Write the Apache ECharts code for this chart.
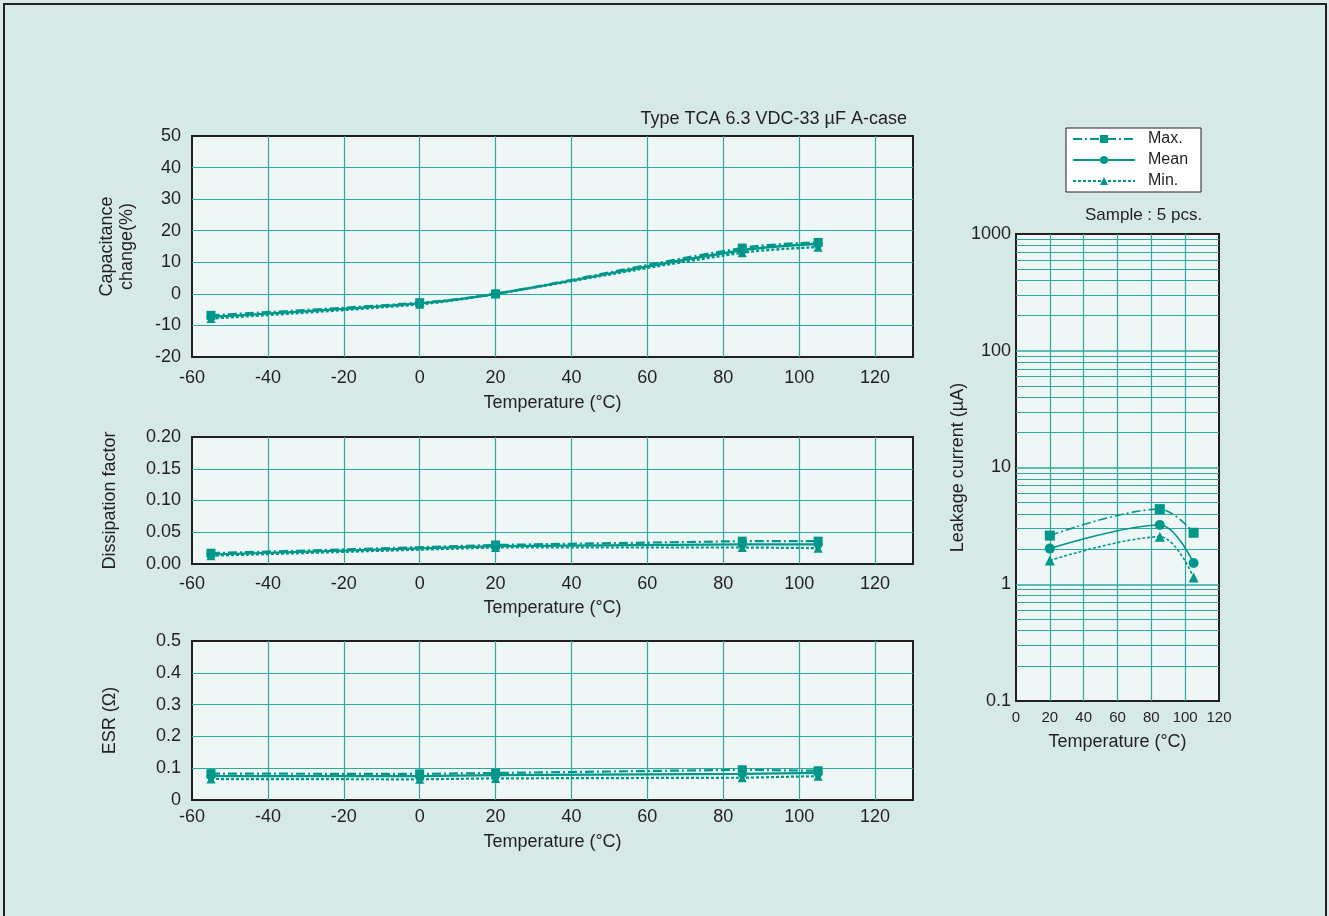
<!DOCTYPE html>
<html>
<head>
<meta charset="utf-8">
<script src="https://cdn.jsdelivr.net/npm/echarts@6/dist/echarts.min.js"></script>
<style>
html,body{margin:0;padding:0;background:#d5e9e6;}
#c{width:1329px;height:916px;}
</style>
</head>
<body>
<div id="c"></div>
<script>
// ---- data ----
const tempCap = [-55, 0, 20, 85, 105];
const capMax = [-6.8, -2.8, 0, 14.5, 16.3];
const capMean = [-7.3, -3.0, 0, 13.8, 15.8];
const capMin = [-7.8, -3.3, 0, 13.0, 14.8];

const tempDf = [-55, 20, 85, 105];
const dfMax = [0.017, 0.030, 0.036, 0.036];
const dfMean = [0.015, 0.028, 0.031, 0.031];
const dfMin = [0.013, 0.026, 0.026, 0.025];

const tempEsr = [-55, 0, 20, 85, 105];
const esrMax = [0.083, 0.082, 0.085, 0.095, 0.092];
const esrMean = [0.075, 0.075, 0.078, 0.082, 0.085];
const esrMin = [0.066, 0.065, 0.068, 0.070, 0.075];

const tempLeak = [20, 85, 105];
const leakMax = [2.61, 4.40, 2.76];
const leakMean = [2.02, 3.22, 1.52];
const leakMin = [1.60, 2.55, 1.14];

const leakMinorTicks = [0.2,0.3,0.4,0.5,0.6,0.7,0.8,0.9,2,3,4,5,6,7,8,9,20,30,40,50,60,70,80,90,200,300,400,500,600,700,800,900];

const seriesNames = ['Max.', 'Mean', 'Min.'];
const titleText = 'Type TCA 6.3 VDC-33 \u00b5F A-case';
const sampleText = 'Sample : 5 pcs.';

// ---- styles ----
const TEAL = '#00978b';
const GRIDC = '#2fa89e';
const TXT = '#231f20';
const FONT = '"Liberation Sans", Arial, Helvetica, sans-serif';
const FS = 18;
const styles = [
  {symbol: 'rect', type: [9, 3, 2, 3]},
  {symbol: 'circle', type: 'solid'},
  {symbol: 'triangle', type: [3, 2]}
];

function pairs(xs, ys) { return xs.map((x, i) => [x, ys[i]]); }

function tempAxis(gi, margin, gap) {
  return {
    gridIndex: gi, type: 'value', min: -60, max: 130, interval: 20,
    name: 'Temperature (\u00b0C)', nameLocation: 'middle', nameGap: gap,
    nameTextStyle: {color: TXT, fontSize: FS, fontFamily: FONT},
    axisLine: {show: false}, axisTick: {show: false},
    axisLabel: {color: TXT, fontSize: FS, fontFamily: FONT, margin: margin, showMaxLabel: false},
    splitLine: {show: true, showMinLine: false, showMaxLine: false, lineStyle: {color: GRIDC, width: 1.2}}
  };
}
function valAxis(gi, min, max, interval, name, gap, fmt) {
  return {
    gridIndex: gi, type: 'value', min: min, max: max, interval: interval,
    name: name, nameLocation: 'middle', nameGap: gap, nameRotate: 90,
    nameTextStyle: {color: TXT, fontSize: FS, fontFamily: FONT, lineHeight: 20},
    axisLine: {show: false}, axisTick: {show: false},
    axisLabel: {color: TXT, fontSize: FS, fontFamily: FONT, margin: 11, formatter: fmt},
    splitLine: {show: true, showMinLine: false, showMaxLine: false, lineStyle: {color: GRIDC, width: 1.2}}
  };
}

const series = [];
function addSet(gi, xs, arrs, width, symSize, smooth, extra) {
  arrs.forEach((ys, k) => {
    const s = {
      name: seriesNames[k], type: 'line', xAxisIndex: gi, yAxisIndex: gi,
      data: pairs(xs, ys), smooth: smooth,
      symbol: styles[k].symbol, symbolSize: symSize, showAllSymbol: true,
      lineStyle: {color: TEAL, width: width, type: styles[k].type},
      itemStyle: {color: TEAL},
      z: 5
    };
    if (extra && k === 0) Object.assign(s, extra);
    series.push(s);
  });
}

// leakage first so legend takes its style
addSet(3, tempLeak, [leakMax, leakMean, leakMin], 1.6, 10, 0.35, {
  markLine: {
    silent: true, symbol: 'none', label: {show: false}, animation: false,
    lineStyle: {color: GRIDC, width: 1, type: 'solid'},
    data: leakMinorTicks.map(v => ({yAxis: v}))
  }
});
addSet(0, tempCap, [capMax, capMean, capMin], 2.4, 9, 0.35);
addSet(1, tempDf, [dfMax, dfMean, dfMin], 2.2, 9, false);
addSet(2, tempEsr, [esrMax, esrMean, esrMin], 2.2, 9, false);

const gridBase = {show: true, backgroundColor: '#eef7f5', borderColor: '#231f20', borderWidth: 2, containLabel: false};

const option = {
  animation: false,
  backgroundColor: '#d5e9e6',
  textStyle: {fontFamily: FONT},
  grid: [
    Object.assign({left: 192, top: 136, width: 721, height: 221}, gridBase),
    Object.assign({left: 192, top: 437, width: 721, height: 127}, gridBase),
    Object.assign({left: 192, top: 641, width: 721, height: 159}, gridBase),
    Object.assign({left: 1016, top: 234, width: 203, height: 467}, gridBase)
  ],
  xAxis: [
    tempAxis(0, 12, 37),
    tempAxis(1, 11, 35),
    tempAxis(2, 8, 33),
    {
      gridIndex: 3, type: 'value', min: 0, max: 120, interval: 20,
      name: 'Temperature (\u00b0C)', nameLocation: 'middle', nameGap: 32,
      nameTextStyle: {color: TXT, fontSize: FS, fontFamily: FONT},
      axisLine: {show: false}, axisTick: {show: false},
      axisLabel: {color: TXT, fontSize: 15, fontFamily: '"Liberation Sans Narrow", ' + FONT, margin: 9},
      splitLine: {show: true, showMinLine: false, showMaxLine: false, lineStyle: {color: GRIDC, width: 1.2}}
    }
  ],
  yAxis: [
    valAxis(0, -20, 50, 10, 'Capacitance\nchange(%)', 55),
    valAxis(1, 0, 0.2, 0.05, 'Dissipation factor', 72, v => v.toFixed(2)),
    valAxis(2, 0, 0.5, 0.1, 'ESR (\u03a9)', 72),
    {
      gridIndex: 3, type: 'log', logBase: 10, min: 0.1, max: 1000,
      name: 'Leakage current (\u00b5A)', nameLocation: 'middle', nameGap: 45, nameRotate: 90,
      nameTextStyle: {color: TXT, fontSize: FS, fontFamily: FONT},
      axisLine: {show: false}, axisTick: {show: false},
      axisLabel: {color: TXT, fontSize: FS, fontFamily: FONT, margin: 5, formatter: v => String(v)},
      splitLine: {show: true, showMinLine: false, showMaxLine: false, lineStyle: {color: GRIDC, width: 1.5}}
    }
  ],
  legend: {
    show: true, orient: 'vertical', left: 1066, top: 128,
    backgroundColor: '#ffffff', borderColor: '#231f20', borderWidth: 1,
    padding: [3, 13, 3, 6], itemWidth: 62, itemHeight: 10, itemGap: 5,
    textStyle: {color: TXT, fontSize: 16, lineHeight: 16, fontFamily: FONT, padding: [0, 0, 0, 8]},
    data: seriesNames
  },
  graphic: [
    {type: 'rect', shape: {x: 4, y: 4, width: 1322, height: 930}, style: {fill: 'none', stroke: '#231f20', lineWidth: 2}, silent: true},
    {type: 'text', right: 1329 - 907, top: 110, style: {text: titleText, fill: TXT, fontSize: FS, fontFamily: FONT}},
    {type: 'text', left: 1085, top: 207, style: {text: sampleText, fill: TXT, fontSize: 17, fontFamily: FONT}}
  ],
  series: series
};

const chart = echarts.init(document.getElementById('c'), null, {renderer: 'canvas'});
chart.setOption(option);
</script>
</body>
</html>
